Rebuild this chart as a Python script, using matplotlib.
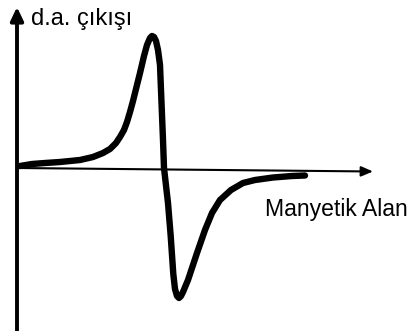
import matplotlib.pyplot as plt

# first-derivative absorption signal, units are offsets from the axis origin
field = [3, 15, 28, 43, 63, 76, 86, 93, 99, 103, 107, 110, 113, 116, 119, 123,
         127, 130, 133, 135, 137, 139, 141, 143, 144, 145, 146, 147, 151, 153.7,
         156.3, 158, 160, 162, 164, 166, 171, 180, 188, 195, 203, 214, 226, 238,
         256, 275, 288]
signal = [2, 4, 5, 6, 8, 11, 15, 19, 25, 31, 38, 46, 56, 67, 79, 95, 112, 123,
          130, 132, 131, 127, 118, 103, 78, 53, 28, 0, -35, -68, -106, -121,
          -128, -130, -128, -124, -112, -85, -62, -45, -32, -22, -15, -12, -9.5,
          -8, -7.5]

x_label = "Manyetik Alan"
y_label = "d.a. çıkışı"

plt.rcParams["font.family"] = ["Liberation Sans", "DejaVu Sans"]

fig = plt.figure(figsize=(4.09, 3.31), dpi=100)
ax = fig.add_axes([0, 0, 1, 1])
ax.set_xlim(-17, 392)
ax.set_ylim(-163, 168)
ax.axis("off")

# vertical axis with arrow on top
ax.annotate("", xy=(0, 161), xytext=(0, -170),
            arrowprops=dict(arrowstyle="-|>,head_length=0.8,head_width=0.38",
                            lw=2.8, color="black", mutation_scale=10,
                            shrinkA=0, shrinkB=0))
# horizontal axis, drawn a touch tilted like the hand sketch
ax.annotate("", xy=(356, -3.5), xytext=(0, 0),
            arrowprops=dict(arrowstyle="-|>,head_length=0.7,head_width=0.3",
                            lw=1.5, color="black", mutation_scale=10,
                            shrinkA=0, shrinkB=0))

ax.plot(field, signal, color="black", lw=4.6, solid_capstyle="round",
        solid_joinstyle="round")

ax.text(14, 143, y_label, fontsize=17, va="baseline", ha="left")
ax.text(248, -48, x_label, fontsize=16.6, va="baseline", ha="left")

fig.savefig("out.png", dpi=100, facecolor="white")
